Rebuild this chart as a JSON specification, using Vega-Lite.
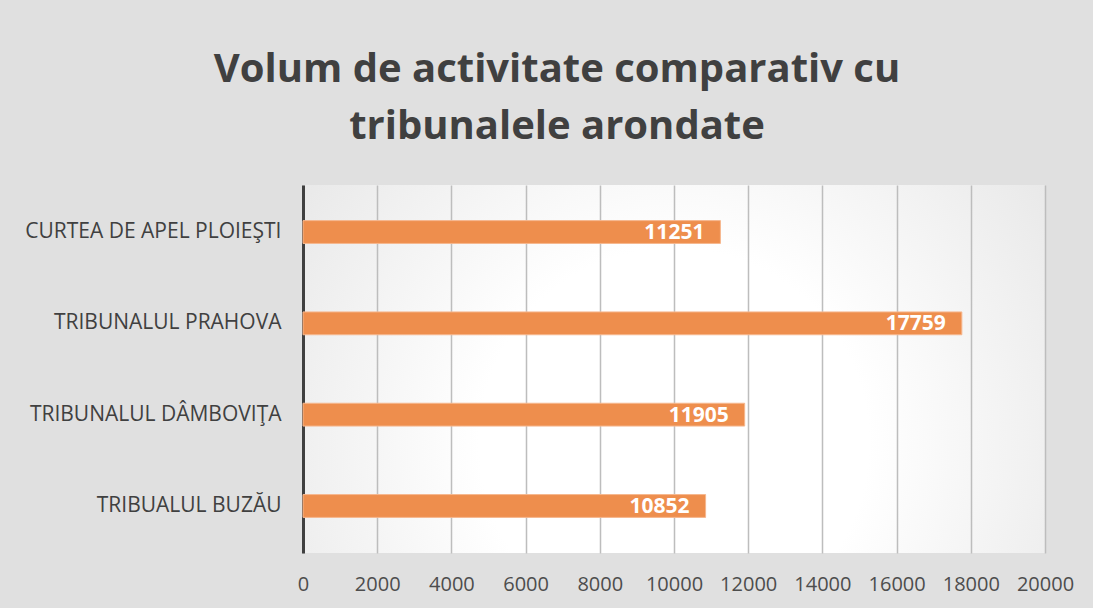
{
  "$schema": "https://vega.github.io/schema/vega-lite/v6.json",
  "width": 742,
  "height": 368,
  "autosize": {"type": "none"},
  "padding": {"left": 303, "top": 185, "right": 48, "bottom": 55},
  "background": "#e0e0e0",
  "title": {
    "text": ["Volum de activitate comparativ cu", "tribunalele arondate"],
    "anchor": "middle",
    "frame": "group",
    "dx": -117,
    "offset": -2,
    "baseline": "bottom",
    "lineHeight": 57,
    "font": "Open Sans",
    "fontSize": 40,
    "fontWeight": "bold",
    "color": "#404040"
  },
  "data": {
    "values": [
      {"instanta": "CURTEA DE APEL PLOIEŞTI", "volum": 11251},
      {"instanta": "TRIBUNALUL PRAHOVA", "volum": 17759},
      {"instanta": "TRIBUNALUL DÂMBOVIŢA", "volum": 11905},
      {"instanta": "TRIBUALUL BUZĂU", "volum": 10852}
    ]
  },
  "encoding": {
    "y": {
      "field": "instanta",
      "type": "nominal",
      "sort": null,
      "scale": {"paddingInner": 0.75, "paddingOuter": 0.39},
      "axis": {
        "title": null,
        "domainColor": "#404040",
        "domainWidth": 3,
        "ticks": false,
        "labelPadding": 22,
        "labelLimit": 400,
        "labelFont": "Open Sans",
        "labelFontSize": 21,
        "labelColor": "#404040",
        "grid": false
      }
    },
    "x": {
      "field": "volum",
      "type": "quantitative",
      "scale": {"domain": [0, 20000], "nice": false},
      "axis": {
        "title": null,
        "values": [0, 2000, 4000, 6000, 8000, 10000, 12000, 14000, 16000, 18000, 20000],
        "format": "d",
        "domain": false,
        "ticks": false,
        "grid": true,
        "gridColor": "#bdbdbd",
        "gridWidth": 1.5,
        "labelPadding": 21,
        "labelFont": "Open Sans",
        "labelFontSize": 20,
        "labelColor": "#4d4d4d",
        "labelFlush": false,
        "labelOverlap": false
      }
    }
  },
  "layer": [
    {
      "mark": {"type": "bar", "color": "#EE8E4D", "stroke": "#F6B78E", "strokeWidth": 1}
    },
    {
      "mark": {
        "type": "text",
        "align": "right",
        "baseline": "middle",
        "dx": -16,
        "dy": 1,
        "color": "white",
        "font": "Open Sans",
        "fontSize": 21,
        "fontWeight": "bold"
      },
      "encoding": {"text": {"field": "volum", "type": "quantitative", "format": "d"}}
    }
  ],
  "config": {
    "view": {
      "stroke": null,
      "fill": {
        "gradient": "radial",
        "x1": 0.5, "y1": 0.6, "r1": 0,
        "x2": 0.5, "y2": 0.6, "r2": 0.75,
        "stops": [
          {"offset": 0, "color": "#ffffff"},
          {"offset": 0.35, "color": "#ffffff"},
          {"offset": 1, "color": "#e0e0e0"}
        ]
      }
    }
  }
}
